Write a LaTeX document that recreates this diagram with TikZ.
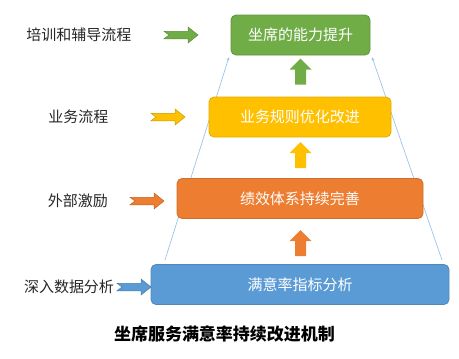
\documentclass[tikz,border=0pt]{standalone}
\usepackage{fontspec}
\setmainfont{Noto Sans CJK SC}
\usepackage{tikz}
\usetikzlibrary{positioning, arrows.meta, calc}
\definecolor{LevGreen}{RGB}{112,173,71}
\definecolor{LevYellow}{RGB}{255,192,0}
\definecolor{LevOrange}{RGB}{237,125,49}
\definecolor{LevBlue}{RGB}{91,155,213}
\definecolor{LineBlue}{RGB}{157,195,230}
\tikzset{
  level/.style={rounded corners=5pt, minimum height=40pt, inner sep=2pt, line width=0.8pt,
    text=white, font=\fontsize{15}{18}\selectfont},
  lvgreen/.style={level, fill=LevGreen, draw=LevGreen!85!black},
  lvyellow/.style={level, fill=LevYellow, draw=LevYellow!90!black},
  lvorange/.style={level, fill=LevOrange, draw=LevOrange!88!black},
  lvblue/.style={level, fill=LevBlue, draw=LevBlue!88!black},
  sidelab/.style={font=\fontsize{15}{18}\selectfont, text=black!85, inner sep=0pt},
  guide/.style={-{Stealth[length=4pt,width=3pt]}, LineBlue, line width=0.7pt},
  pics/sidearr/.style={code={
    \filldraw[fill=#1, draw=#1!80!black, line width=0.5pt]
      (0,-3.75) -- (24,-3.75) -- (24,-8) -- (34,0) -- (24,8) -- (24,3.75) -- (0,3.75) -- (5,0) -- cycle;}},
  pics/uparr/.style={code={
    \fill[#1] (-5.5,0) -- (-5.5,-15) -- (-11,-15) -- (0,-26) -- (11,-15) -- (5.5,-15) -- (5.5,0) -- cycle;}},
}
\begin{document}
\begin{tikzpicture}[x=1pt, y=-1pt]
  \useasboundingbox (0,0) rectangle (459,359);
  % guide lines behind the levels
  \coordinate (gl-a) at (165,260);
  \coordinate (gl-b) at (229,57);
  \coordinate (gr-a) at (442,260);
  \coordinate (gr-b) at (372,57);
  \draw[guide] (gl-a) -- (gl-b);
  \draw[guide] (gr-a) -- (gr-b);
  % levels
  \node[lvgreen, minimum width=139pt] (green) at (300.5,35) {坐席的能力提升};
  \node[lvyellow, minimum width=182pt] (yellow) at (300,117) {业务规则优化改进};
  \node[lvorange, minimum width=246pt] (orange) at (300,198.5) {绩效体系持续完善};
  \node[lvblue, minimum width=298pt] (blue) at (300,284.5) {满意率指标分析};
  % up arrows
  \pic at ($(yellow.north)+(0.5,-12)$) {uparr=LevGreen};
  \pic at ($(orange.north)+(0.5,-10)$) {uparr=LevYellow};
  \pic at ($(blue.north)+(0.5,-8)$) {uparr=LevOrange};
  % side labels and arrows
  \node[sidelab] (lab1) at (79,35) {培训和辅导流程};
  \node[sidelab] (lab2) at (78.5,117) {业务流程};
  \node[sidelab] (lab3) at (78,201) {外部激励};
  \node[sidelab] (lab4) at (69,287) {深入数据分析};
  \pic at (164,35) {sidearr=LevGreen};
  \pic at (151,117) {sidearr=LevYellow};
  \pic at (130,201) {sidearr=LevOrange};
  \pic at (117,287) {sidearr=LevBlue};
  % title
  \node[font=\fontsize{17}{20}\selectfont\bfseries, text=black] (title) at (224.5,334) {坐席服务满意率持续改进机制};
\end{tikzpicture}
\end{document}
